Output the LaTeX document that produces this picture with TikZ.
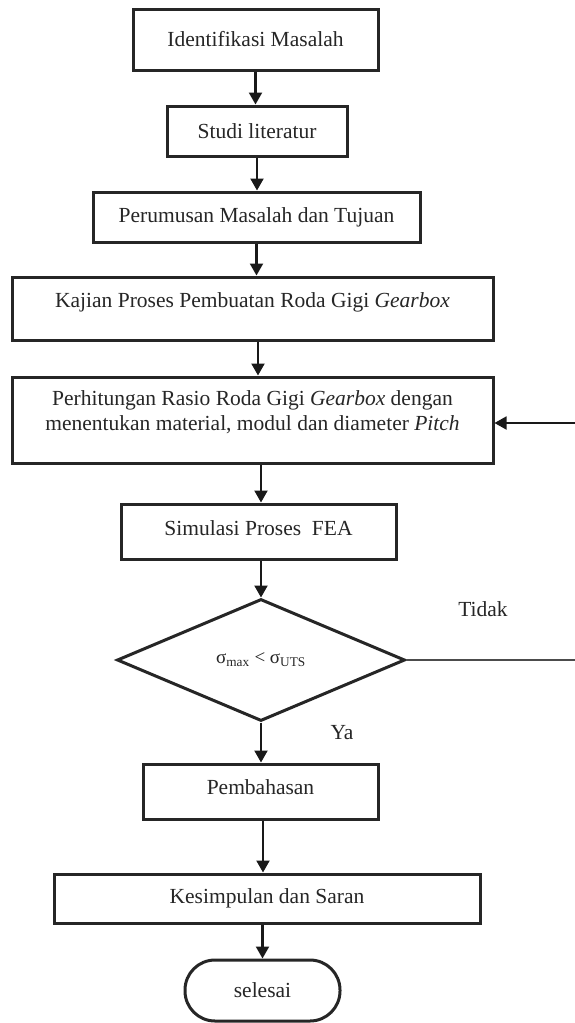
\documentclass[tikz,border=0pt]{standalone}
\usepackage{fontspec}
\setmainfont{Liberation Serif}
\usetikzlibrary{arrows.meta,shapes.geometric}
\begin{document}
\begin{tikzpicture}[x=1pt,y=-1pt,
  every node/.style={font=\fontsize{21.5}{25}\selectfont, text=black!85},
  box/.style={draw=black!85, line width=3pt, rectangle, inner sep=0pt},
  txt/.style={inner sep=0pt, align=center},
  arr/.style={draw=black!90, line width=2.2pt, -{Triangle[length=12pt,width=13pt]}},
  plainline/.style={draw=black!70, line width=1.8pt}]
\useasboundingbox (0,0) rectangle (575,1023);
\fill[white] (0,0) rectangle (575,1023);

\node[box, minimum width=245pt, minimum height=61pt] (b1) at (255.5,39.5) {Identifikasi Masalah};
\node[box, minimum width=180pt, minimum height=50pt] (b2) at (257,131) {Studi literatur};
\node[box, minimum width=327pt, minimum height=50pt] (b3) at (256.5,217) {Perumusan Masalah dan Tujuan};
\node[box, minimum width=481pt, minimum height=63pt] (b4) at (252.5,308.5) {};
\node[txt] (t4) at (252.5,302) {Kajian Proses Pembuatan Roda Gigi \textit{Gearbox}};
\node[box, minimum width=481pt, minimum height=86pt] (b5) at (252.5,420) {};
\node[txt] (t5) at (252.5,412.5) {Perhitungan Rasio Roda Gigi \textit{Gearbox} dengan\\menentukan material, modul dan diameter \textit{Pitch}};
\node[box, minimum width=275pt, minimum height=55pt] (b6) at (258.5,531.5) {};
\node[txt] (t6) at (258.5,528) {Simulasi Proses\ \ FEA};
\node[box, diamond, minimum width=288pt, minimum height=122pt] (dec) at (261,660) {};
\node[txt, font=\fontsize{19}{22}\selectfont] (t7) at (261,660) {σ\textsubscript{max} < σ\textsubscript{UTS}};
\node[box, minimum width=235pt, minimum height=55pt] (b7) at (260.5,791.5) {};
\node[txt] (t8) at (260.5,787) {Pembahasan};
\node[box, minimum width=426pt, minimum height=49pt] (b8) at (267,898.5) {Kesimpulan dan Saran};
\node[box, minimum width=155pt, minimum height=61pt, rounded corners=30pt] (end) at (262.5,990.5) {selesai};

\node[txt] (tidak) at (483,609) {Tidak};
\node[txt] (ya) at (342,733) {Ya};

\coordinate (rt) at (575,660);
\coordinate (rin) at (575,423);

\draw[arr] (b1.south) -- (b1.south |- b2.north);
\draw[arr] (b2.south) -- (b2.south |- b3.north);
\draw[arr] (b3.south) -- (b3.south |- b4.north);
\draw[arr] ([xshift=5.5pt]b4.south) -- ([xshift=5.5pt]b5.north);
\draw[arr] ([xshift=8.5pt]b5.south) -- ([xshift=8.5pt]b5.south |- b6.north);
\draw[arr] (dec.north |- b6.south) -- (dec.north);
\draw[arr] (dec.south) -- (dec.south |- b7.north);
\draw[arr] ([xshift=2.5pt]b7.south) -- ([xshift=2.5pt]b7.south |- b8.north);
\draw[arr] (end.north |- b8.south) -- (end.north);

\draw[plainline] (dec.east) -- (rt);
\draw[arr, line width=1.8pt] (rin) -- (rin -| b5.east);
\end{tikzpicture}
\end{document}
